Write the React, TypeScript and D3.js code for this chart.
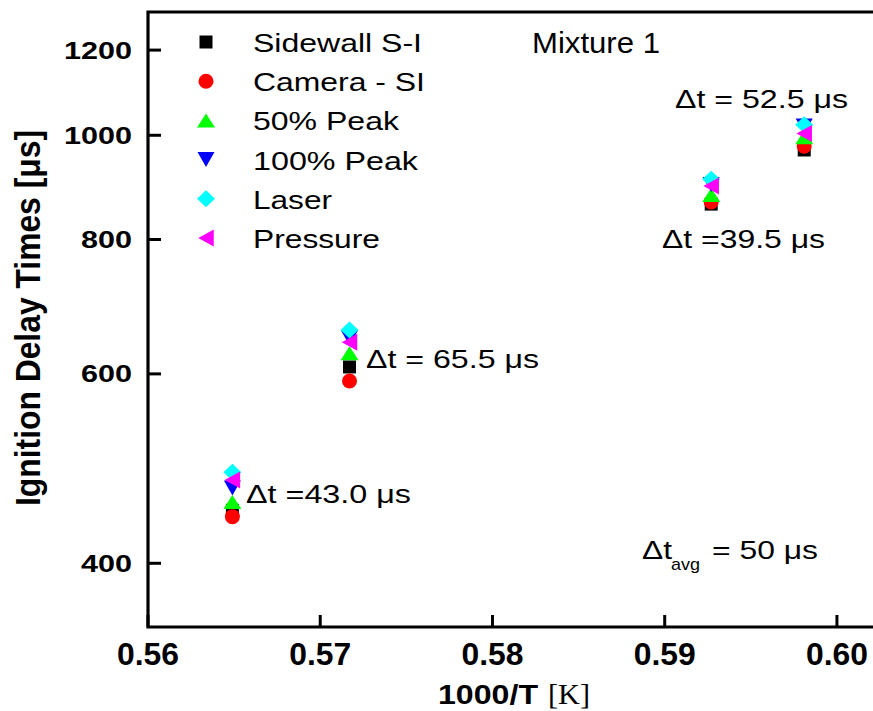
import React from 'react';
import * as d3 from 'd3';

// 1000/T positions of the four shock-tube conditions
const inverseTemp = [0.5649, 0.5717, 0.5927, 0.5981];

// Ignition delay times [µs] for each diagnostic
const sidewallSI = [448, 609, 863, 969];
const cameraSI = [442, 591, 867, 977];
const peak50 = [456, 627, 880, 996];
const peak100 = [470, 648, 900, 1020];
const laser = [486, 659, 910, 1023];
const pressure = [478, 642, 897, 1004];

const seriesNames = ['Sidewall S-I', 'Camera - SI', '50% Peak', '100% Peak', 'Laser', 'Pressure'];
const seriesColors = ['#000000', '#ff0000', '#00ff00', '#0000ff', '#00ffff', '#ff00ff'];
const seriesShapes = ['square', 'circle', 'up', 'down', 'diamond', 'left'];
const seriesValues = [sidewallSI, cameraSI, peak50, peak100, laser, pressure];

const xTickValues = [0.56, 0.57, 0.58, 0.59, 0.6];
const yTickValues = [400, 600, 800, 1000, 1200];

const W = 873;
const H = 711;
const FONT = "'Liberation Sans', Arial, sans-serif";

const x = d3.scaleLinear().domain([0.56, 0.6025]).range([148, 880]);
const y = d3.scaleLog().domain([349, 1302]).range([627, 12]);

function markerPath(shape: string, cx: number, cy: number): string {
  switch (shape) {
    case 'square':
      return `M${cx - 6.5},${cy - 6.5}h13v13h-13Z`;
    case 'circle': {
      const p = d3.path();
      p.arc(cx, cy, 7.5, 0, Math.PI * 2);
      p.closePath();
      return p.toString();
    }
    case 'up':
      return `M${cx - 9},${cy + 7}L${cx + 9},${cy + 7}L${cx},${cy - 7}Z`;
    case 'down':
      return `M${cx - 8.5},${cy - 7.5}L${cx + 8.5},${cy - 7.5}L${cx},${cy + 7.5}Z`;
    case 'diamond':
      return `M${cx},${cy - 8.5}L${cx + 9},${cy}L${cx},${cy + 8.5}L${cx - 9},${cy}Z`;
    case 'left':
    default:
      return `M${cx - 7.75},${cy}L${cx + 7.75},${cy - 8.5}L${cx + 7.75},${cy + 8.5}Z`;
  }
}

function Note({ x0, y0, text, len, size = 26 }: { x0: number; y0: number; text: string; len: number; size?: number }) {
  return (
    <text x={x0} y={y0} fontSize={size} fontFamily={FONT} textLength={len} lengthAdjust="spacingAndGlyphs" fill="#000">
      {text}
    </text>
  );
}

export default function App() {
  const frameLeft = x(0.56);
  const frameBottom = y.range()[0];
  const frameTop = y.range()[1];

  return (
    <svg width={W} height={H} style={{ position: 'absolute', left: 0, top: 0, background: '#fff' }}>
      <rect x={0} y={0} width={W} height={H} fill="#fff" />

      {/* frame */}
      <path
        d={`M${x(0.6025) + 10},${frameTop}H${frameLeft}V${frameBottom}H${x(0.6025) + 10}`}
        fill="none"
        stroke="#000"
        strokeWidth={3.2}
        strokeLinejoin="miter"
      />

      {/* y ticks and labels */}
      {yTickValues.map((v) => (
        <g key={`y${v}`}>
          <line x1={frameLeft} x2={frameLeft + 13} y1={y(v)} y2={y(v)} stroke="#000" strokeWidth={3} />
          <text
            x={132}
            y={y(v) + 8.5}
            fontSize={24}
            fontWeight="bold"
            fontFamily={FONT}
            textAnchor="end"
            textLength={String(v).length * 17}
            lengthAdjust="spacingAndGlyphs"
          >
            {v}
          </text>
        </g>
      ))}

      {/* x ticks and labels */}
      {xTickValues.map((v) => (
        <g key={`x${v}`}>
          <line x1={x(v)} x2={x(v)} y1={frameBottom} y2={frameBottom - 12} stroke="#000" strokeWidth={3} />
          <text
            x={x(v)}
            y={665}
            fontSize={31}
            fontWeight="bold"
            fontFamily={FONT}
            textAnchor="middle"
            textLength={62}
            lengthAdjust="spacingAndGlyphs"
          >
            {v.toFixed(2)}
          </text>
        </g>
      ))}

      {/* axis titles */}
      <text x={438} y={704} fontSize={27} fontWeight="bold" fontFamily={FONT} textLength={100} lengthAdjust="spacingAndGlyphs">
        1000/T
      </text>
      <text x={548} y={704} fontSize={30} fontFamily="'Liberation Serif', 'Times New Roman', serif" textLength={42} lengthAdjust="spacingAndGlyphs">
        [K]
      </text>
      <text
        transform="translate(40,318) scale(1.1,1) rotate(-90)"
        x={0}
        y={0}
        fontSize={32}
        fontWeight="bold"
        fontFamily={FONT}
        textAnchor="middle"
        textLength={376}
        lengthAdjust="spacingAndGlyphs"
      >
        Ignition Delay Times [μs]
      </text>

      {/* data markers */}
      {seriesValues.map((vals, si) => (
        <g key={seriesNames[si]} fill={seriesColors[si]}>
          {vals.map((v, i) => (
            <path key={i} d={markerPath(seriesShapes[si], x(inverseTemp[i]), y(v))} />
          ))}
        </g>
      ))}

      {/* legend */}
      {seriesNames.map((name, i) => {
        const cy = 42 + i * 39.2;
        const lens = [169, 172, 146, 165, 79, 127];
        return (
          <g key={`leg${name}`}>
            <path d={markerPath(seriesShapes[i], 206, cy)} fill={seriesColors[i]} />
            <Note x0={253} y0={cy + 10} text={name} len={lens[i]} />
          </g>
        );
      })}

      {/* annotations */}
      <Note x0={532} y0={53} text="Mixture 1" len={128} size={29} />
      <Note x0={675} y0={108} text="Δt = 52.5 μs" len={173} />
      <Note x0={662} y0={248} text="Δt =39.5 μs" len={163} />
      <Note x0={366} y0={368} text="Δt = 65.5 μs" len={173} />
      <Note x0={246} y0={503} text="Δt =43.0 μs" len={165} />
      <Note x0={642} y0={559} text="Δt" len={30} />
      <Note x0={671} y0={570} text="avg" len={29} size={17} />
      <Note x0={712} y0={559} text="= 50 μs" len={106} />
    </svg>
  );
}
